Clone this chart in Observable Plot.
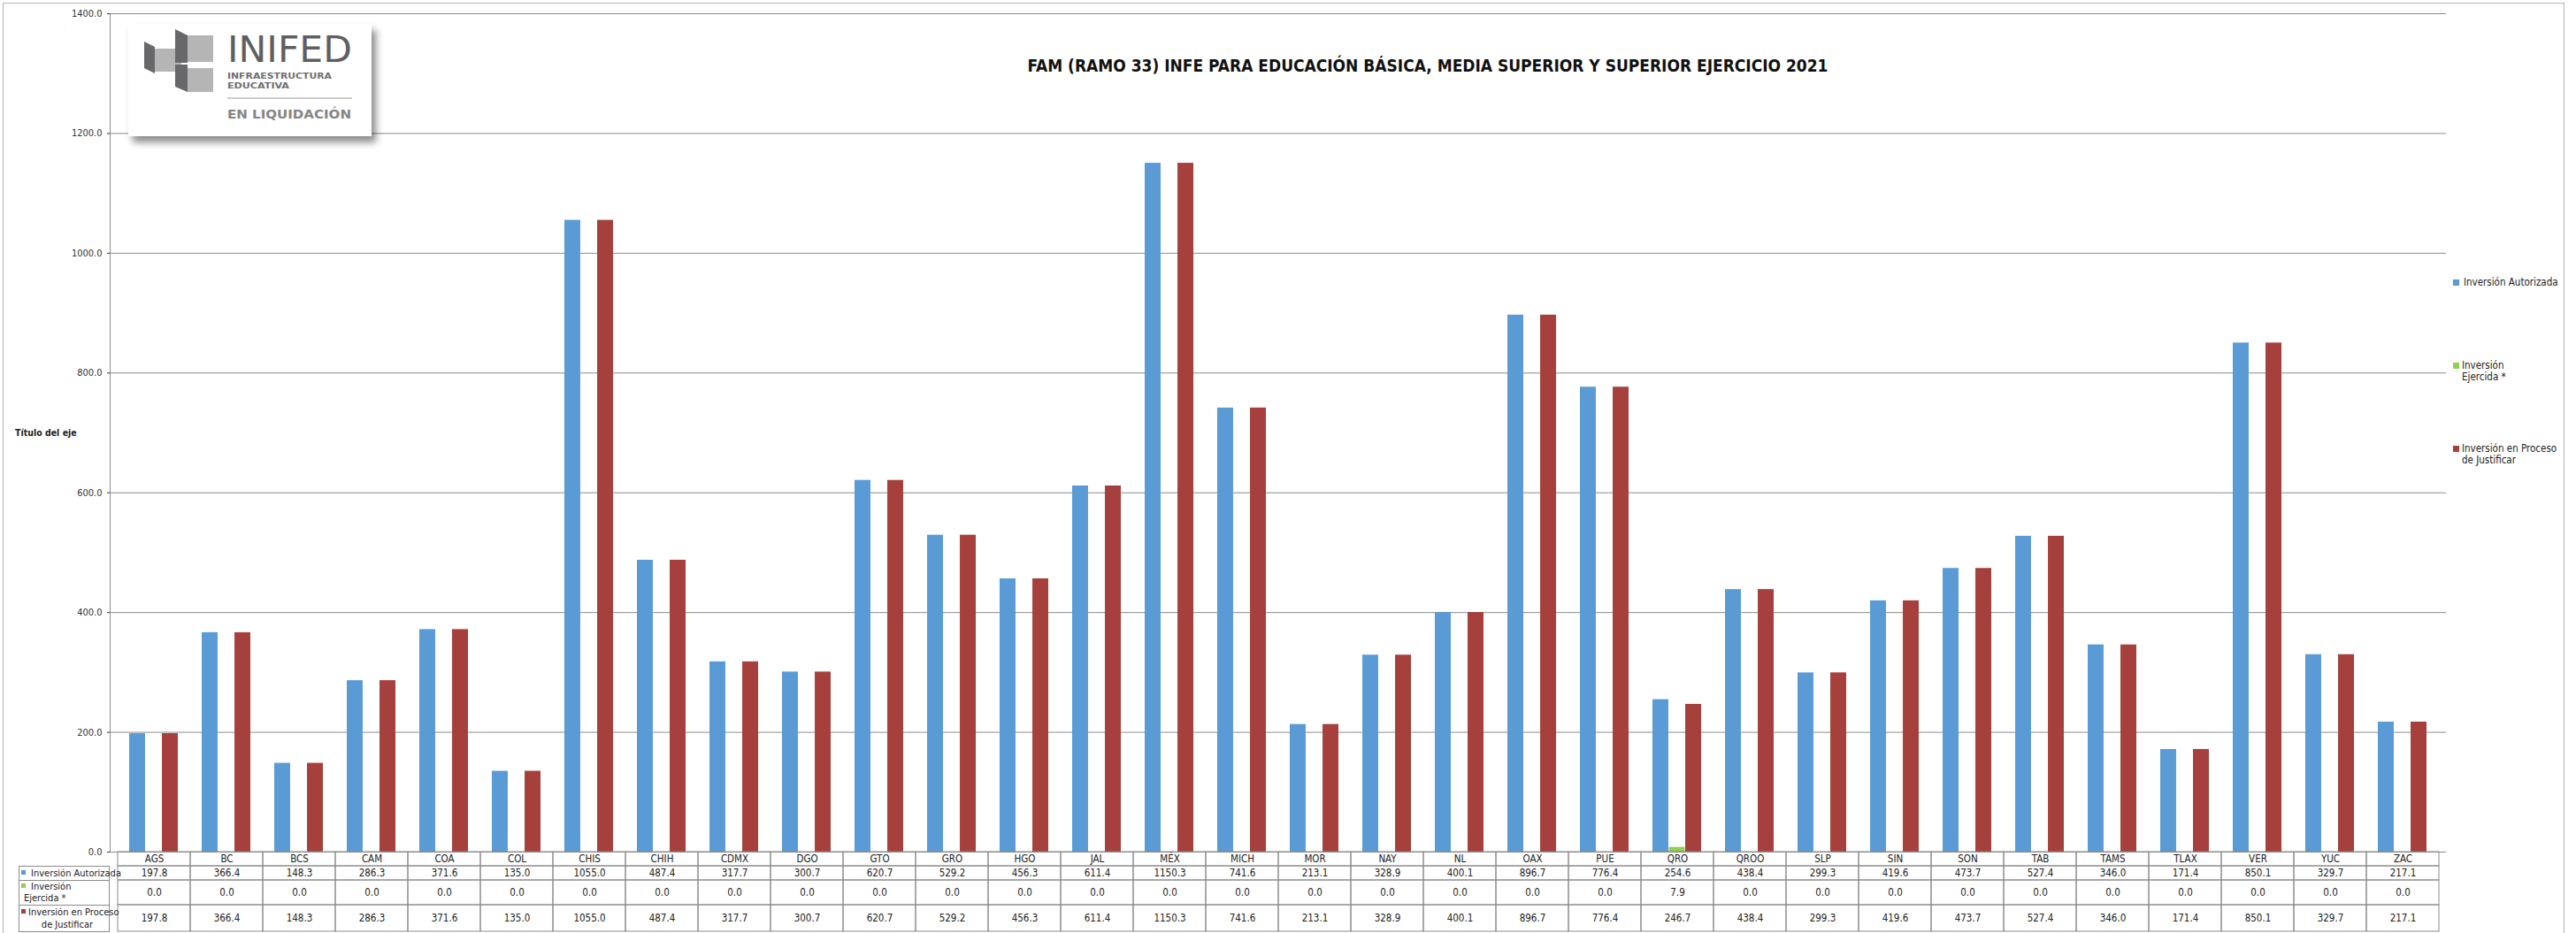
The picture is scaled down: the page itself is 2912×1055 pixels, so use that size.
<!DOCTYPE html>
<html>
<head>
<meta charset="utf-8">
<script src="https://cdn.jsdelivr.net/npm/d3@7"></script>
<script src="https://cdn.jsdelivr.net/npm/@observablehq/plot@0.6"></script>
<style>
  html, body { margin: 0; padding: 0; background: #fff; }
  #root { position: relative; width: 2912px; height: 1055px; overflow: hidden; background: #fff;
          font-family: "Liberation Sans Narrow", "DejaVu Sans Condensed", "Open Sans", sans-serif; color: #222; }
  .abs { position: absolute; }
  .sw { position: absolute; width: 7px; height: 7px; }
  .lbl { position: absolute; font-size: 11px; line-height: 13px; white-space: nowrap; color: #222; }
</style>
</head>
<body>
<div id="root"></div>
<script>
// ---------------- data ----------------
const states = ["AGS","BC","BCS","CAM","COA","COL","CHIS","CHIH","CDMX","DGO","GTO","GRO","HGO","JAL","MÉX","MICH",
                "MOR","NAY","NL","OAX","PUE","QRO","QROO","SLP","SIN","SON","TAB","TAMS","TLAX","VER","YUC","ZAC"];
const autorizada = [197.8,366.4,148.3,286.3,371.6,135.0,1055.0,487.4,317.7,300.7,620.7,529.2,456.3,611.4,1150.3,741.6,
                    213.1,328.9,400.1,896.7,776.4,254.6,438.4,299.3,419.6,473.7,527.4,346.0,171.4,850.1,329.7,217.1];
const ejercida   = [0,0,0,0,0,0,0,0,0,0,0,0,0,0,0,0,
                    0,0,0,0,0,7.9,0,0,0,0,0,0,0,0,0,0];
const justificar = [197.8,366.4,148.3,286.3,371.6,135.0,1055.0,487.4,317.7,300.7,620.7,529.2,456.3,611.4,1150.3,741.6,
                    213.1,328.9,400.1,896.7,776.4,246.7,438.4,299.3,419.6,473.7,527.4,346.0,171.4,850.1,329.7,217.1];
const seriesNames  = ["Inversión Autorizada", "Inversión Ejercida *", "Inversión en Proceso de Justificar"];
const seriesColors = ["#5B9BD5", "#92D050", "#A5403D"];
const yTicks = [0, 200, 400, 600, 800, 1000, 1200, 1400];
const titleText = "FAM (RAMO 33) INFE PARA EDUCACIÓN BÁSICA, MEDIA SUPERIOR Y SUPERIOR EJERCICIO 2021";
const yAxisTitle = "Título del eje";

// ---------------- layout ----------------
const FONT = '"Liberation Sans Narrow","DejaVu Sans Condensed","Open Sans",sans-serif';
const W = 2912, ML = 124, MR = 147;
const root = document.getElementById("root");
function place(el, left, top) {
  el.style.position = "absolute"; el.style.left = left + "px"; el.style.top = top + "px";
  root.appendChild(el); return el;
}
function div(cls, left, top, html, css) {
  const d = document.createElement("div"); d.className = cls; if (html != null) d.innerHTML = html;
  if (css) Object.assign(d.style, css); return place(d, left, top);
}

// outer chart border
div("abs", 3, 3, null, {width: "2896px", height: "1070px", border: "1px solid #b4b4b4", boxSizing: "border-box"});

const seriesValues = [autorizada, ejercida, justificar];
const rows = states.flatMap((s, i) => seriesNames.map((name, k) => ({state: s, series: name, value: seriesValues[k][i]})));

const PI = 0.327;
const step = (W - ML - MR) / states.length;
const third = step * (1 - PI) / 3;

const chart = Plot.plot({
  width: W, height: 963,
  marginLeft: ML, marginRight: MR, marginTop: 15, marginBottom: 0,
  style: {fontFamily: FONT, fontSize: "11px", color: "#333", background: "transparent", overflow: "visible"},
  x: {domain: states, paddingInner: PI, paddingOuter: PI / 2, axis: null},
  y: {domain: [0, 1400], ticks: yTicks, tickFormat: d => d.toFixed(1), tickSize: 3, tickPadding: 6, label: null},
  color: {domain: seriesNames, range: seriesColors},
  marks: [
    Plot.ruleY(yTicks, {stroke: "#8c8c8c", strokeWidth: 1}),
    Plot.barY(rows.filter(d => d.series === seriesNames[0]), {x: "state", y: "value", fill: "series", insetRight: 2 * third}),
    Plot.barY(rows.filter(d => d.series === seriesNames[1]), {x: "state", y: "value", fill: "series", insetLeft: third, insetRight: third}),
    Plot.barY(rows.filter(d => d.series === seriesNames[2]), {x: "state", y: "value", fill: "series", insetLeft: 2 * third})
  ]
});
{
  const ys = chart.scale("y");
  d3.select(chart).append("line")
    .attr("x1", ML + 0.5).attr("x2", ML + 0.5)
    .attr("y1", ys.apply(1400)).attr("y2", ys.apply(0))
    .attr("stroke", "#8c8c8c");
}
place(chart, 0, 0);

// ---------------- data table (drawn with Plot on the same band scale) ----------------
function tableRow(labels, top, height) {
  const p = Plot.plot({
    width: W, height, marginLeft: ML, marginRight: MR, marginTop: 0, marginBottom: 0,
    style: {fontFamily: FONT, fontSize: "11.5px", color: "#222", background: "transparent", overflow: "visible"},
    x: {domain: states, padding: 0, axis: null},
    marks: [
      Plot.cell(states, {x: d => d, fill: "none", stroke: "#8c8c8c"}),
      Plot.text(states, {x: d => d, text: (d, i) => labels[i], fill: "#222", fontSize: 11.5})
    ]
  });
  place(p, 0, top);
}
const fmt = v => v.toFixed(1);
tableRow(states, 963, 16);
tableRow(autorizada.map(fmt), 979, 16);
tableRow(ejercida.map(fmt), 995, 28);
tableRow(justificar.map(fmt), 1023, 30);

// label column of the table
const LX = 21, LW = ML - LX;
div("abs", LX, 979, null, {width: LW + "px", height: "17px", border: "1px solid #8c8c8c", boxSizing: "border-box"});
div("abs", LX, 995, null, {width: LW + "px", height: "29px", border: "1px solid #8c8c8c", boxSizing: "border-box"});
div("abs", LX, 1023, null, {width: LW + "px", height: "31px", border: "1px solid #8c8c8c", boxSizing: "border-box"});
div("sw", 24, 984, null, {background: seriesColors[0], width: "5px", height: "5px"});
div("lbl", 35, 981, seriesNames[0]);
div("sw", 24, 999, null, {background: seriesColors[1], width: "5px", height: "5px"});
div("lbl", 35, 996, "Inversión");
div("lbl", 27, 1009, "Ejercida *");
div("sw", 24, 1028, null, {background: seriesColors[2], width: "5px", height: "5px"});
div("lbl", 32, 1025, "Inversión en Proceso");
div("lbl", 32, 1039, "de Justificar", {width: "88px", textAlign: "center"});

// ---------------- right legend ----------------
div("sw", 2773, 316, null, {background: seriesColors[0]});
div("lbl", 2785, 313, seriesNames[0], {fontSize: "11.5px"});
div("sw", 2773, 410, null, {background: seriesColors[1]});
div("lbl", 2783, 407, "Inversión<br>Ejercida *", {fontSize: "11.5px"});
div("sw", 2773, 504, null, {background: seriesColors[2]});
div("lbl", 2783, 501, "Inversión en Proceso<br>de Justificar", {fontSize: "11.5px"});

// ---------------- axis title ----------------
div("lbl", 17, 483, yAxisTitle, {fontWeight: "bold", fontSize: "10.5px"});

// ---------------- chart title ----------------
{
  const ns = "http://www.w3.org/2000/svg";
  const s = document.createElementNS(ns, "svg");
  s.setAttribute("width", 1800); s.setAttribute("height", 44);
  const t = document.createElementNS(ns, "text");
  t.setAttribute("x", 900); t.setAttribute("y", 31); t.setAttribute("text-anchor", "middle");
  t.setAttribute("font-family", FONT); t.setAttribute("font-weight", "bold"); t.setAttribute("font-size", 20);
  t.setAttribute("fill", "#111");
  t.setAttribute("textLength", 905); t.setAttribute("lengthAdjust", "spacingAndGlyphs");
  t.textContent = titleText;
  s.appendChild(t);
  place(s, 714, 50);
}

// ---------------- logo (decorative) ----------------
{
  const box = div("abs", 145, 27, null, {width: "275px", height: "127px", background: "#fff",
    boxShadow: "5px 7px 8px rgba(0,0,0,0.45)"});
  box.innerHTML = `
  <svg width="275" height="127" xmlns="http://www.w3.org/2000/svg">
    <polygon points="18,20 30,26 30,56 18,50" fill="#68686a"/>
    <rect x="30" y="28" width="30" height="26" fill="#b5b5b5"/>
    <polygon points="53,6 67,13 67,44 53,44" fill="#68686a"/>
    <rect x="67" y="13" width="29" height="30" fill="#b5b5b5"/>
    <polygon points="53,46 67,46 67,77 53,71" fill="#68686a"/>
    <rect x="67" y="50" width="29" height="27" fill="#b5b5b5"/>
    <text x="112" y="43" font-family="DejaVu Sans, sans-serif" font-size="40" font-weight="normal" fill="#5f5f61"
          textLength="141" lengthAdjust="spacingAndGlyphs">INIFED</text>
    <text x="112" y="62" font-family="DejaVu Sans, sans-serif" font-size="8" font-weight="bold" fill="#6f6f6f"
          textLength="118" lengthAdjust="spacingAndGlyphs">INFRAESTRUCTURA</text>
    <text x="112" y="73" font-family="DejaVu Sans, sans-serif" font-size="8" font-weight="bold" fill="#6f6f6f"
          textLength="70" lengthAdjust="spacingAndGlyphs">EDUCATIVA</text>
    <line x1="112" x2="253" y1="84" y2="84" stroke="#9a9a9a" stroke-width="1"/>
    <text x="112" y="107" font-family="DejaVu Sans, sans-serif" font-size="14" font-weight="bold" fill="#858585"
          textLength="140" lengthAdjust="spacingAndGlyphs">EN LIQUIDACIÓN</text>
  </svg>`;
}
</script>
</body>
</html>
